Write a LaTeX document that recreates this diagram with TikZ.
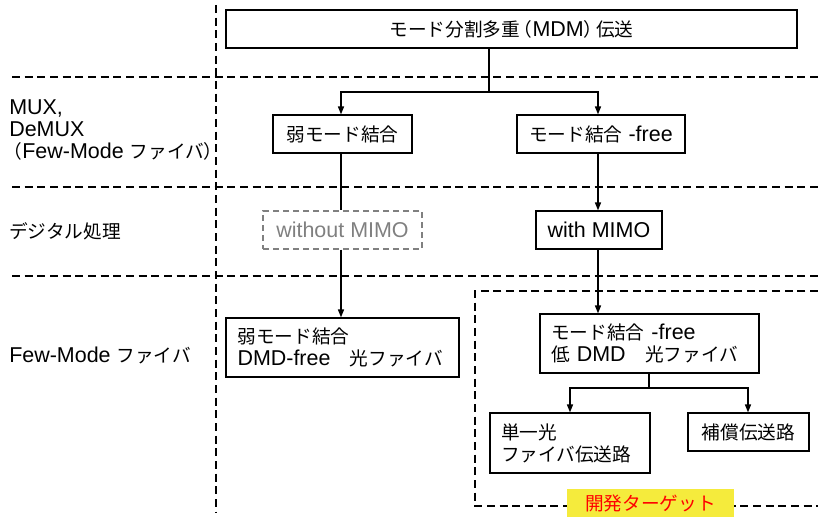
\documentclass[tikz,border=0pt]{standalone}
\usepackage{fontspec}
\setmainfont[Scale=1.15]{Liberation Sans}
\newfontfamily\jp{Noto Sans CJK JP}
\usetikzlibrary{arrows.meta}
\newdimen\pxu \pxu=0.75pt
\newcommand\jlp{{\jp\hspace{-0.45em}（}}
\newcommand\jrp{{\jp ）\hspace{-0.45em}}}
\begin{document}
\begin{tikzpicture}[x=0.75pt,y=-0.75pt,
  font=\fontsize{14pt}{16.5pt}\selectfont,
  box/.style={draw,line width=0.9pt,inner sep=0pt},
  sep/.style={line width=0.9pt,dash pattern=on 6pt off 3.5pt},
  con/.style={line width=1.1pt},
  arr/.style={con,-{Triangle[length=6pt,width=4.5pt]}},
  lab/.style={anchor=west,align=left,inner sep=0pt}]
\useasboundingbox (0,0) rectangle (818,517);
% separators
\draw[sep] (216,5) -- (216,512);
\draw[sep] (12,77) -- (818,77);
\draw[sep] (12,187) -- (818,187);
\draw[sep] (12,276) -- (818,276);
% target region
\draw[sep] (818,291) -- (475,291) -- (475,506) -- (818,506);
% boxes
\node[box,minimum width=571\pxu,minimum height=38\pxu] (top) at (511.5,29) {{\jp モード分割多重}\hspace{0.1em}\jlp MDM\jrp\hspace{0.1em}{\jp 伝送}};
\node[box,minimum width=139\pxu,minimum height=38\pxu] (weak) at (342.5,134) {\jp 弱モード結合};
\node[box,minimum width=168\pxu,minimum height=38\pxu] (free) at (601,134) {{\jp モード結合} -free};
\node[box,draw=gray,dash pattern=on 4.5pt off 3pt,text=gray,minimum width=159\pxu,minimum height=38\pxu] (wo) at (342.5,230) {without MIMO};
\node[box,minimum width=126\pxu,minimum height=38\pxu] (wi) at (599,230) {with MIMO};
\node[box,minimum width=233\pxu,minimum height=59\pxu,align=left,text width=210\pxu] (wf) at (342.5,347.5) {{\jp 弱モード結合}\\DMD-free\hspace{0.9em}{\jp 光ファイバ}};
\node[box,minimum width=219\pxu,minimum height=59\pxu,align=left,text width=197\pxu] (lf) at (649.5,343.5) {{\jp モード結合} -free\\{\jp 低} DMD\hspace{0.9em}{\jp 光ファイバ}};
\node[box,minimum width=160\pxu,minimum height=60\pxu,align=left,text width=138\pxu] (sm) at (570,443) {{\jp 単一光}\\{\jp ファイバ伝送路}};
\node[box,minimum width=121\pxu,minimum height=38\pxu] (cp) at (748.5,432) {\jp 補償伝送路};
\node[fill={rgb,255:red,245;green,235;blue,60},text=red,minimum width=167\pxu,minimum height=28\pxu,inner sep=0pt] (tg) at (650.5,503) {\jp 開発ターゲット};
% left labels
\node[lab] (l1) at (9,130) {MUX,\\DeMUX\\{\jp\hspace{-0.3em}（}Few-Mode {\jp ファイバ）}};
\node[lab] (l2) at (9,231) {\jp デジタル処理};
\node[lab] (l3) at (9,355) {Few-Mode {\jp ファイバ}};
% connectors
\coordinate (j1) at (489,92);
\draw[con] (top.south -| j1) -- (j1);
\draw[arr] (j1) -| (weak.north -| 341,0);
\draw[arr] (j1) -| (free.north -| 598,0);
\draw[con] (weak.south -| 341,0) -- (wo.north -| 341,0);
\draw[arr] (wo.south -| 341,0) -- (wf.north -| 341,0);
\draw[arr] (free.south -| 598,0) -- (wi.north -| 598,0);
\draw[arr] (wi.south -| 598,0) -- (lf.north -| 598,0);
\coordinate (j2) at (649,388);
\draw[con] (lf.south -| j2) -- (j2);
\draw[arr] (j2) -| (sm.north -| 570,0);
\draw[arr] (j2) -| (cp.north -| 748,0);
\end{tikzpicture}
\end{document}
